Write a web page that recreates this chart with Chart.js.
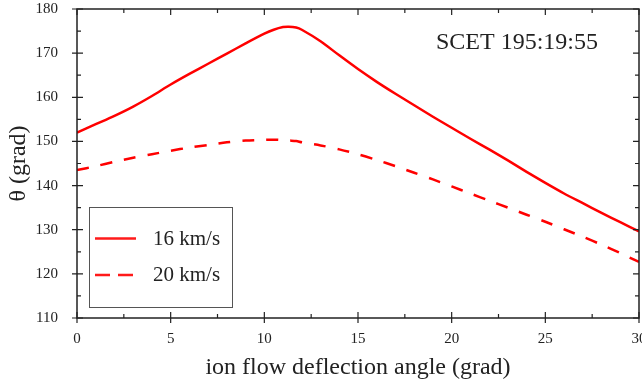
<!DOCTYPE html>
<html>
<head>
<meta charset="utf-8">
<script src="https://cdn.jsdelivr.net/npm/chart.js@4/dist/chart.umd.min.js"></script>
<style>
  html, body { margin: 0; padding: 0; background: #fff; }
  #wrap { width: 642px; height: 383px; }
</style>
</head>
<body>
<div id="wrap"><canvas id="chart"></canvas></div>
<script>
// data
const angles = [0, 1, 2, 3, 4, 5, 6, 7, 8, 9, 10, 10.5, 11, 11.3, 11.7, 12, 13, 14, 15, 16, 17, 18, 19, 20, 21, 22, 23, 24, 25, 26, 27, 28, 29, 30];
const theta16 = [152.0, 153.9, 155.8, 157.9, 160.3, 162.9, 165.3, 167.6, 169.9, 172.2, 174.4, 175.3, 175.9, 176.0, 175.8, 175.3, 172.7, 169.5, 166.4, 163.5, 160.8, 158.2, 155.6, 153.1, 150.6, 148.2, 145.7, 143.1, 140.6, 138.2, 136.0, 133.8, 131.7, 129.6];
const theta20 = [143.5, 144.4, 145.4, 146.3, 147.1, 147.9, 148.6, 149.2, 149.8, 150.2, 150.35, 150.4, 150.3, 150.2, 150.1, 149.8, 149.1, 148.2, 147.1, 145.8, 144.4, 142.9, 141.4, 139.8, 138.2, 136.6, 135.0, 133.4, 131.8, 130.1, 128.4, 126.6, 124.7, 122.7];
const seriesNames = ['16 km/s', '20 km/s'];
const xTicks = [0, 5, 10, 15, 20, 25, 30];
const yTicks = [110, 120, 130, 140, 150, 160, 170, 180];

const serif = '"Liberation Serif", "Times New Roman", serif';

function pts(ys) {
  return angles.map((a, i) => ({ x: a, y: ys[i] }));
}

// frame, inward ticks, legend box and the SCET label
const decorations = {
  id: 'decorations',
  afterDraw(chart) {
    const ctx = chart.ctx;
    const a = chart.chartArea;
    const xs = chart.scales.x;
    const ys = chart.scales.y;
    ctx.save();
    ctx.strokeStyle = '#222';
    ctx.lineWidth = 1.5;
    ctx.strokeRect(a.left, a.top, a.right - a.left, a.bottom - a.top);

    ctx.lineWidth = 1.2;
    ctx.beginPath();
    for (let v = 0; v <= 30; v += 2.5) {
      const px = xs.getPixelForValue(v);
      const major = v % 5 === 0;
      const len = major ? 6 : 4;
      ctx.moveTo(px, a.bottom + (major ? 5 : 0));
      ctx.lineTo(px, a.bottom - len);
      ctx.moveTo(px, a.top);
      ctx.lineTo(px, a.top + len);
    }
    for (let v = 110; v <= 180; v += 5) {
      const py = ys.getPixelForValue(v);
      const major = v % 10 === 0;
      const len = major ? 6 : 4;
      ctx.moveTo(a.left - (major ? 5 : 0), py);
      ctx.lineTo(a.left + len, py);
      ctx.moveTo(a.right, py);
      ctx.lineTo(a.right - len, py);
    }
    ctx.stroke();

    // legend
    ctx.strokeStyle = '#555';
    ctx.lineWidth = 1;
    ctx.fillStyle = '#fff';
    ctx.fillRect(89.5, 207.5, 143, 100);
    ctx.strokeRect(89.5, 207.5, 143, 100);
    ctx.strokeStyle = '#ff1a1a';
    ctx.lineWidth = 2.5;
    ctx.beginPath();
    ctx.moveTo(95, 238.5);
    ctx.lineTo(136, 238.5);
    ctx.stroke();
    ctx.setLineDash([15, 8]);
    ctx.beginPath();
    ctx.moveTo(95, 275);
    ctx.lineTo(134, 275);
    ctx.stroke();
    ctx.setLineDash([]);

    ctx.fillStyle = '#222';
    ctx.font = '21px ' + serif;
    ctx.textBaseline = 'middle';
    ctx.textAlign = 'left';
    ctx.fillText(seriesNames[0], 153, 239);
    ctx.fillText(seriesNames[1], 153, 275);

    ctx.font = '24px ' + serif;
    ctx.fillText('SCET 195:19:55', 436, 43);
    ctx.restore();
  }
};

new Chart(document.getElementById('chart'), {
  type: 'line',
  data: {
    datasets: [
      {
        label: seriesNames[0],
        data: pts(theta16),
        borderColor: '#ff0000',
        borderWidth: 2.5,
        pointRadius: 0,
        tension: 0.3
      },
      {
        label: seriesNames[1],
        data: pts(theta20),
        borderColor: '#ff0000',
        borderWidth: 2.5,
        borderDash: [12, 12],
        pointRadius: 0,
        tension: 0.3
      }
    ]
  },
  options: {
    responsive: true,
    maintainAspectRatio: false,
    animation: false,
    layout: { padding: { top: 9, right: 3, left: 0, bottom: 0 } },
    plugins: {
      legend: { display: false },
      tooltip: { enabled: false }
    },
    scales: {
      x: {
        type: 'linear',
        min: 0,
        max: 30,
        afterBuildTicks: (s) => { s.ticks = xTicks.map(v => ({ value: v })); },
        afterFit: (s) => { s.height = 65; s.paddingLeft = 0; s.paddingRight = 0; },
        grid: { display: false },
        border: { display: false },
        ticks: { color: '#222', font: { family: serif, size: 15 }, padding: 4, maxRotation: 0 },
        title: {
          display: true,
          text: 'ion flow deflection angle (grad)',
          color: '#222',
          font: { family: serif, size: 24 },
          padding: { top: 0, bottom: 1 }
        }
      },
      y: {
        min: 110,
        max: 180,
        afterBuildTicks: (s) => { s.ticks = yTicks.map(v => ({ value: v })); },
        afterFit: (s) => { s.width = 77; s.paddingTop = 0; s.paddingBottom = 0; },
        grid: { display: false },
        border: { display: false },
        ticks: { color: '#222', font: { family: serif, size: 15 }, padding: 11 },
        title: {
          display: true,
          text: 'θ (grad)',
          color: '#222',
          font: { family: serif, size: 24 },
          padding: { top: 4, bottom: 0 }
        }
      }
    }
  },
  plugins: [decorations]
});
</script>
</body>
</html>
